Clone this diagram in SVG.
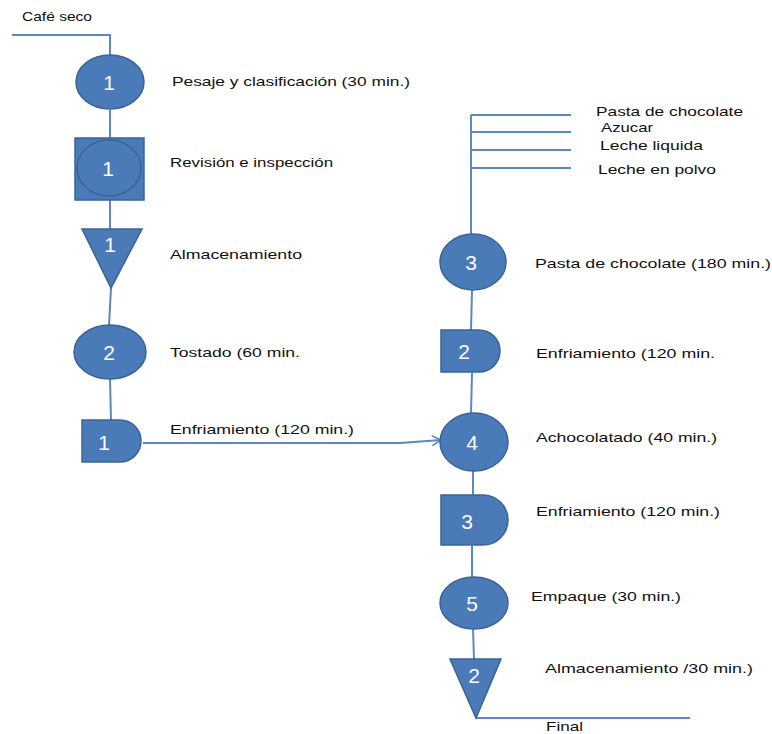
<svg xmlns="http://www.w3.org/2000/svg" width="772" height="734" viewBox="0 0 772 734">
  <style>
    .shape { fill: #4a7ab7; stroke: #3b6496; stroke-width: 1.5; }
    .wire { fill: none; stroke: #5a88c2; stroke-width: 2; }
    .num { fill: #ffffff; font-family: "Liberation Sans", Arial, sans-serif; font-size: 21px; text-anchor: middle; }
    .lbl { fill: #111111; font-family: "Liberation Sans", Arial, sans-serif; font-size: 13px; }
  </style>
  <defs>
    <marker id="openArrow" markerWidth="12" markerHeight="12" refX="10" refY="6" orient="auto" markerUnits="userSpaceOnUse">
      <path d="M1,1 L10,6 L1,11" fill="none" stroke="#5a88c2" stroke-width="1.6"/>
    </marker>
  </defs>
  <rect width="772" height="734" fill="#ffffff"/>

  <!-- connectors -->
  <g id="connectors">
    <path class="wire" d="M12,35 H110 V55"/>
    <path class="wire" d="M110,110 V138"/>
    <path class="wire" d="M110,200 V229"/>
    <path class="wire" d="M111,288 L109,325"/>
    <path class="wire" d="M110,379 L111,420"/>
    <path class="wire" d="M143,443 H400 L441,440" marker-end="url(#openArrow)"/>
    <path class="wire" d="M471,235 V115"/>
    <path class="wire" d="M471,115 H571 M471,132 H571 M471,150 H571 M471,168 H571"/>
    <path class="wire" d="M472,290 L471,330"/>
    <path class="wire" d="M472,373 L471,413"/>
    <path class="wire" d="M473,471 V495"/>
    <path class="wire" d="M472,546 V577"/>
    <path class="wire" d="M473,628 L474,659"/>
    <path class="wire" d="M476,718 H690"/>
  </g>

  <!-- left column -->
  <g id="op1">
    <ellipse class="shape" cx="110" cy="82" rx="34" ry="27"/>
    <text class="num" x="109" y="90">1</text>
  </g>
  <g id="insp1">
    <rect class="shape" x="75" y="138" width="69" height="62"/>
    <ellipse class="shape" cx="109" cy="168" rx="32" ry="28"/>
    <text class="num" x="108" y="176">1</text>
  </g>
  <g id="store1">
    <polygon class="shape" points="82,229 142,229 111,288"/>
    <text class="num" x="110" y="252">1</text>
  </g>
  <g id="op2">
    <ellipse class="shape" cx="110" cy="352" rx="36" ry="27"/>
    <text class="num" x="109" y="360">2</text>
  </g>
  <g id="delay1">
    <path class="shape" d="M82,420 H120 A21,21 0 0 1 120,462 H82 Z"/>
    <text class="num" x="104" y="450">1</text>
  </g>

  <!-- right column -->
  <g id="op3">
    <ellipse class="shape" cx="473" cy="262" rx="33" ry="28"/>
    <text class="num" x="471" y="270">3</text>
  </g>
  <g id="delay2">
    <path class="shape" d="M441,330 H479 A21,21 0 0 1 479,372 H441 Z"/>
    <text class="num" x="464" y="359">2</text>
  </g>
  <g id="op4">
    <ellipse class="shape" cx="474" cy="442" rx="34" ry="29"/>
    <text class="num" x="472" y="450">4</text>
  </g>
  <g id="delay3">
    <path class="shape" d="M441,495 H483 A25,25 0 0 1 483,545 H441 Z"/>
    <text class="num" x="467" y="529">3</text>
  </g>
  <g id="op5">
    <ellipse class="shape" cx="474" cy="603" rx="34" ry="26"/>
    <text class="num" x="472" y="611">5</text>
  </g>
  <g id="store2">
    <polygon class="shape" points="450,659 501,659 476,718"/>
    <text class="num" x="474" y="683">2</text>
  </g>

  <!-- labels -->
  <g id="labels">
    <text class="lbl" x="22" y="21" textLength="70" lengthAdjust="spacingAndGlyphs">Café seco</text>
    <text class="lbl" x="172" y="86" textLength="238" lengthAdjust="spacingAndGlyphs">Pesaje y clasificación (30  min.)</text>
    <text class="lbl" x="170" y="167" textLength="163" lengthAdjust="spacingAndGlyphs">Revisión e inspección</text>
    <text class="lbl" x="170" y="259" textLength="132" lengthAdjust="spacingAndGlyphs">Almacenamiento</text>
    <text class="lbl" x="170" y="357" textLength="130" lengthAdjust="spacingAndGlyphs">Tostado (60  min.</text>
    <text class="lbl" x="170" y="434" textLength="184" lengthAdjust="spacingAndGlyphs">Enfriamiento (120 min.)</text>
    <text class="lbl" x="596" y="116" textLength="147" lengthAdjust="spacingAndGlyphs">Pasta de chocolate</text>
    <text class="lbl" x="601" y="132" textLength="52" lengthAdjust="spacingAndGlyphs">Azucar</text>
    <text class="lbl" x="600" y="150" textLength="103" lengthAdjust="spacingAndGlyphs">Leche  liquida</text>
    <text class="lbl" x="598" y="174" textLength="118" lengthAdjust="spacingAndGlyphs">Leche en polvo</text>
    <text class="lbl" x="535" y="268" textLength="236" lengthAdjust="spacingAndGlyphs">Pasta de chocolate  (180 min.)</text>
    <text class="lbl" x="536" y="358" textLength="179" lengthAdjust="spacingAndGlyphs">Enfriamiento (120 min.</text>
    <text class="lbl" x="536" y="442" textLength="181" lengthAdjust="spacingAndGlyphs">Achocolatado (40  min.)</text>
    <text class="lbl" x="536" y="516" textLength="184" lengthAdjust="spacingAndGlyphs">Enfriamiento (120 min.)</text>
    <text class="lbl" x="531" y="601" textLength="150" lengthAdjust="spacingAndGlyphs">Empaque (30 min.)</text>
    <text class="lbl" x="545" y="673" textLength="208" lengthAdjust="spacingAndGlyphs">Almacenamiento /30 min.)</text>
    <text class="lbl" x="546" y="731" textLength="37" lengthAdjust="spacingAndGlyphs">Final</text>
  </g>
</svg>
